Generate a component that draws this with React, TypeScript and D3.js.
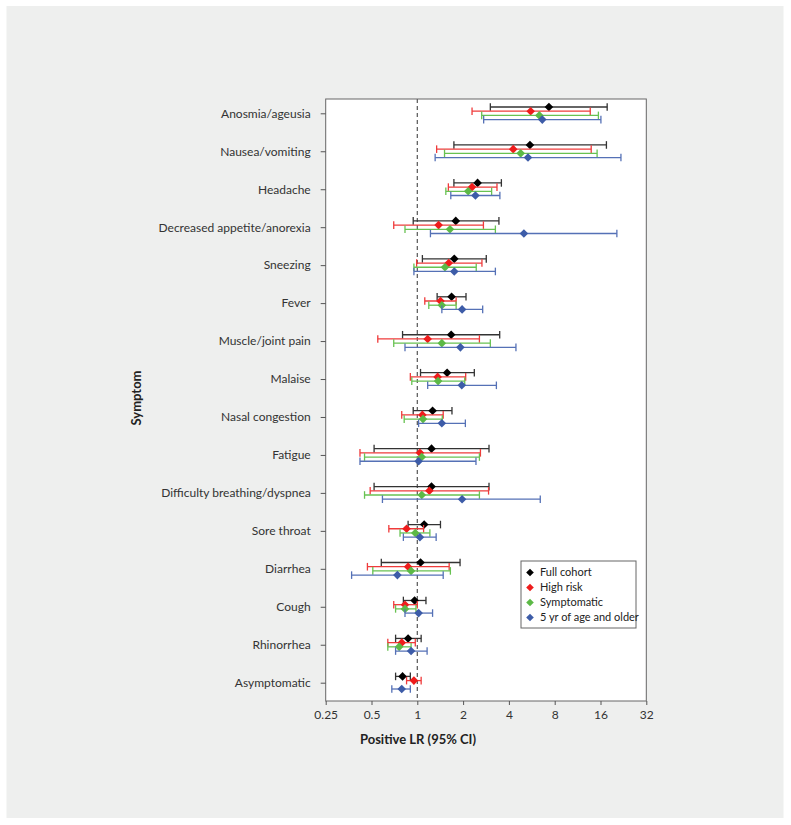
import React, { useRef, useEffect } from 'react';
import * as d3 from 'd3';

// symptom rows, top to bottom
const symptoms = [
  'Anosmia/ageusia', 'Nausea/vomiting', 'Headache', 'Decreased appetite/anorexia',
  'Sneezing', 'Fever', 'Muscle/joint pain', 'Malaise', 'Nasal congestion', 'Fatigue',
  'Difficulty breathing/dyspnea', 'Sore throat', 'Diarrhea', 'Cough', 'Rhinorrhea', 'Asymptomatic',
];

const seriesNames = ['Full cohort', 'High risk', 'Symptomatic', '5 yr of age and older'];

// positive LR point estimates and 95% CI per series (null = not reported)
const fullLR = [7.33, 5.5, 2.49, 1.79, 1.75, 1.68, 1.67, 1.57, 1.26, 1.24, 1.24, 1.11, 1.05, 0.96, 0.87, 0.8];
const fullLo = [3.02, 1.74, 1.74, 0.94, 1.08, 1.35, 0.8, 1.05, 0.94, 0.52, 0.52, 0.87, 0.58, 0.81, 0.72, 0.72];
const fullHi = [17.7, 17.5, 3.57, 3.44, 2.84, 2.09, 3.48, 2.37, 1.69, 2.96, 2.96, 1.42, 1.91, 1.14, 1.06, 0.9];

const riskLR = [5.56, 4.27, 2.29, 1.38, 1.61, 1.42, 1.17, 1.36, 1.08, 1.04, 1.2, 0.85, 0.87, 0.83, 0.79, 0.95];
const riskLo = [2.29, 1.34, 1.6, 0.7, 0.99, 1.12, 0.55, 0.9, 0.79, 0.42, 0.49, 0.65, 0.47, 0.7, 0.64, 0.85];
const riskHi = [13.7, 13.9, 3.34, 2.72, 2.66, 1.8, 2.56, 2.08, 1.48, 2.6, 2.94, 1.1, 1.62, 1.0, 0.97, 1.06];

const sympLR = [6.34, 4.78, 2.16, 1.64, 1.52, 1.45, 1.45, 1.37, 1.09, 1.07, 1.07, 0.97, 0.91, 0.83, 0.76, null];
const sympLo = [2.65, 1.51, 1.54, 0.83, 0.95, 1.19, 0.7, 0.92, 0.82, 0.45, 0.45, 0.77, 0.51, 0.72, 0.64, null];
const sympHi = [15.5, 15.2, 3.08, 3.26, 2.44, 1.8, 3.02, 2.05, 1.46, 2.56, 2.56, 1.21, 1.65, 0.98, 0.91, null];

const ageLR = [6.63, 5.34, 2.41, 5.02, 1.75, 1.97, 1.92, 1.96, 1.45, 1.02, 1.97, 1.04, 0.74, 1.02, 0.91, 0.79];
const ageLo = [2.73, 1.31, 1.66, 1.22, 0.95, 1.45, 0.83, 1.17, 1.02, 0.42, 0.59, 0.81, 0.37, 0.83, 0.72, 0.68];
const ageHi = [16.1, 21.8, 3.49, 20.5, 3.26, 2.69, 4.45, 3.31, 2.07, 2.43, 6.43, 1.33, 1.48, 1.26, 1.16, 0.9];

const xTicks = [0.25, 0.5, 1, 2, 4, 8, 16, 32];

const markColors = ['#000000', '#ee1c1c', '#5cb946', '#3d5ca8'];
const barColors = ['#333333', '#ef3b3b', '#68c252', '#5571b6'];

const FONT = 'Lato, "Open Sans", sans-serif';

const App = () => {
  const ref = useRef<SVGSVGElement>(null);

  useEffect(() => {
    const svg = d3.select(ref.current);
    svg.selectAll('*').remove();

    const W = 791, H = 825;
    const plot = { left: 325.7, right: 646.3, top: 99, bottom: 701 };

    // background panel
    svg.append('rect')
      .attr('x', 6.5).attr('y', 6).attr('width', 777).attr('height', 812)
      .attr('fill', '#eeefee');

    svg.append('rect')
      .attr('x', plot.left).attr('y', plot.top)
      .attr('width', plot.right - plot.left).attr('height', plot.bottom - plot.top)
      .attr('fill', '#ffffff');

    const x = d3.scaleLog().base(2)
      .domain([0.25, 32])
      .range([plot.left, plot.right]);

    const y = d3.scalePoint<string>()
      .domain(symptoms)
      .range([113.3, 682.7]);

    const off = d3.scalePoint<string>()
      .domain(seriesNames)
      .range([-6.3, 6.3]);

    // reference line at LR = 1
    svg.append('line')
      .attr('x1', x(1)).attr('x2', x(1))
      .attr('y1', plot.top).attr('y2', plot.bottom)
      .attr('stroke', '#555').attr('stroke-width', 1.2)
      .attr('stroke-dasharray', '4,3');

    const series = [
      { name: seriesNames[0], lr: fullLR, lo: fullLo, hi: fullHi },
      { name: seriesNames[1], lr: riskLR, lo: riskLo, hi: riskHi },
      { name: seriesNames[2], lr: sympLR, lo: sympLo, hi: sympHi },
      { name: seriesNames[3], lr: ageLR, lo: ageLo, hi: ageHi },
    ];

    const diamond = (r: number) => `M0,${-r}L${r},0L0,${r}L${-r},0Z`;

    series.forEach((s, si) => {
      const rows = symptoms
        .map((sym, i) => ({ sym, lr: s.lr[i], lo: s.lo[i], hi: s.hi[i] }))
        .filter(d => d.lr != null);
      const g = svg.append('g');
      const yy = (d: any) => (y(d.sym) as number) + (off(s.name) as number);

      g.selectAll('line.ci')
        .data(rows)
        .join('line')
        .attr('x1', d => x(d.lo as number)).attr('x2', d => x(d.hi as number))
        .attr('y1', yy).attr('y2', yy)
        .attr('stroke', barColors[si]).attr('stroke-width', 1.3);

      ['lo', 'hi'].forEach(k => {
        g.selectAll(`line.cap-${k}`)
          .data(rows)
          .join('line')
          .attr('x1', (d: any) => x(d[k])).attr('x2', (d: any) => x(d[k]))
          .attr('y1', d => yy(d) - 3.8).attr('y2', d => yy(d) + 3.8)
          .attr('stroke', barColors[si]).attr('stroke-width', 1.3);
      });

      g.selectAll('path')
        .data(rows)
        .join('path')
        .attr('d', diamond(4.3))
        .attr('transform', d => `translate(${x(d.lr as number)},${yy(d)})`)
        .attr('fill', markColors[si]);
    });

    // plot frame
    svg.append('rect')
      .attr('x', plot.left).attr('y', plot.top)
      .attr('width', plot.right - plot.left).attr('height', plot.bottom - plot.top)
      .attr('fill', 'none').attr('stroke', '#666').attr('stroke-width', 1);

    // x axis
    const xAxis = svg.append('g')
      .attr('transform', `translate(0,${plot.bottom})`)
      .call(d3.axisBottom(x).tickValues(xTicks).tickFormat(d => String(d)).tickSizeInner(4).tickSizeOuter(0));
    xAxis.select('.domain').remove();
    xAxis.selectAll('line').attr('stroke', '#555');
    xAxis.selectAll('text')
      .attr('fill', '#333').attr('dy', '0.9em')
      .style('font-family', FONT).style('font-size', '12px');

    // y axis
    const yAxis = svg.append('g')
      .attr('transform', `translate(${plot.left},0)`)
      .call(d3.axisLeft(y).tickSizeInner(5).tickSizeOuter(0).tickPadding(10));
    yAxis.select('.domain').remove();
    yAxis.selectAll('line').attr('stroke', '#555');
    yAxis.selectAll('text')
      .attr('fill', '#333')
      .style('font-family', FONT).style('font-size', '12px');

    // axis titles
    svg.append('text')
      .attr('x', 418).attr('y', 744)
      .attr('text-anchor', 'middle')
      .attr('fill', '#222')
      .style('font-family', FONT).style('font-size', '13px').style('font-weight', 'bold')
      .text('Positive LR (95% CI)');

    svg.append('text')
      .attr('transform', `translate(141,398) rotate(-90)`)
      .attr('text-anchor', 'middle')
      .attr('fill', '#222')
      .style('font-family', FONT).style('font-size', '13px').style('font-weight', 'bold')
      .text('Symptom');

    // legend
    const lg = svg.append('g').attr('transform', 'translate(521,561)');
    lg.append('rect')
      .attr('width', 115).attr('height', 67)
      .attr('fill', '#fff').attr('stroke', '#666');
    seriesNames.forEach((n, i) => {
      const row = lg.append('g').attr('transform', `translate(9,${11.5 + i * 15})`);
      row.append('path').attr('d', diamond(3.8)).attr('fill', markColors[i]);
      row.append('text')
        .attr('x', 10).attr('dy', '0.35em')
        .attr('fill', '#222')
        .style('font-family', FONT).style('font-size', '11px')
        .text(n);
    });
  }, []);

  return (
    <svg ref={ref} width={791} height={825}
      style={{ position: 'absolute', left: 0, top: 0, display: 'block' }} />
  );
};

export default App;
